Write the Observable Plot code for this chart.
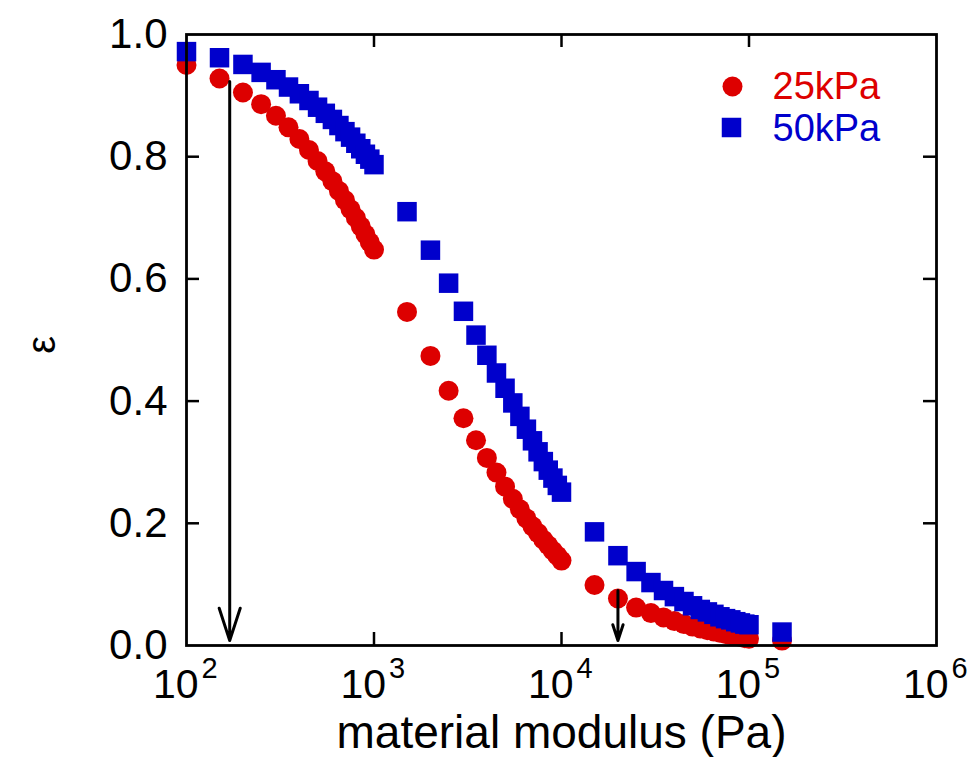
<!DOCTYPE html>
<html>
<head>
<meta charset="utf-8">
<script src="https://cdn.jsdelivr.net/npm/d3@7"></script>
<script src="https://cdn.jsdelivr.net/npm/@observablehq/plot@0.6"></script>
<style>
  html, body { margin: 0; padding: 0; background: #fff; }
  #chart svg { font-family: "Liberation Sans", Arial, Helvetica, sans-serif; }
</style>
</head>
<body>
<div id="chart"></div>
<script>
// ---- data ----
const modulus = [100,150,200,250,300,350,400,450,500,550,600,650,700,750,800,850,900,950,1000,
  1500,2000,2500,3000,3500,4000,4500,5000,5500,6000,6500,7000,7500,8000,8500,9000,9500,10000,
  15000,20000,25000,30000,35000,40000,45000,50000,55000,60000,65000,70000,75000,80000,85000,90000,95000,100000,
  150000];
const eps25 = [0.950,0.928,0.905,0.886,0.867,0.848,0.829,0.811,0.793,0.776,0.760,0.744,0.729,0.714,0.700,0.686,0.673,0.660,0.648,
  0.546,0.474,0.417,0.372,0.336,0.307,0.283,0.260,0.240,0.223,0.208,0.195,0.184,0.173,0.164,0.155,0.147,0.139,
  0.099,0.077,0.062,0.053,0.046,0.040,0.035,0.031,0.028,0.025,0.023,0.021,0.019,0.017,0.016,0.014,0.012,0.011,
  0.008];
const eps50 = [0.972,0.962,0.951,0.938,0.926,0.914,0.903,0.892,0.881,0.871,0.861,0.851,0.841,0.832,0.822,0.813,0.804,0.796,0.787,
  0.710,0.647,0.593,0.547,0.508,0.475,0.446,0.421,0.397,0.375,0.354,0.335,0.317,0.301,0.287,0.274,0.262,0.251,
  0.186,0.147,0.121,0.103,0.090,0.080,0.072,0.065,0.059,0.055,0.051,0.047,0.044,0.042,0.039,0.037,0.035,0.034,
  0.022];
const seriesNames = ["25kPa", "50kPa"];
const xTicks = [1e2, 1e3, 1e4, 1e5, 1e6];
const xTickBase = ["10", "10", "10", "10", "10"];
const xTickExp = ["2", "3", "4", "5", "6"];
const yTicks = [0, 0.2, 0.4, 0.6, 0.8, 1.0];
const yTickLabels = ["0.0", "0.2", "0.4", "0.6", "0.8", "1.0"];
const xLabel = "material modulus (Pa)";
const yLabel = "ε";
const arrowX = [170, 20000];
const arrowTop = [0.923, 0.09];
const arrowBottom = [0.008, 0.008];

// ---- derived tables ----
const red = "#dd0000", blue = "#0000cc";
const d25 = modulus.map((m, i) => ({m, e: eps25[i]}));
const d50 = modulus.map((m, i) => ({m, e: eps50[i]}));
const xTickData = xTicks.map((v, i) => ({v, base: xTickBase[i], exp: xTickExp[i]}));
const yTickData = yTicks.map((v, i) => ({v, label: yTickLabels[i]}));
const arrows = arrowX.map((x, i) => ({x, y1: arrowTop[i], y2: arrowBottom[i]}));

const W = 972, H = 757, mL = 186, mR = 36, mT = 34, mB = 112;
const fh = H - mT - mB, fw = W - mL - mR, tickLen = 13;

const chart = Plot.plot({
  width: W, height: H,
  marginLeft: mL, marginRight: mR, marginTop: mT, marginBottom: mB,
  x: {type: "log", domain: [1e2, 1e6], axis: null},
  y: {domain: [0, 1], axis: null},
  marks: [
    // inward ticks
    Plot.tickX(xTicks.slice(1, -1), {x: d => d, insetTop: fh - tickLen, stroke: "black", strokeWidth: 2.5}),
    Plot.tickX(xTicks.slice(1, -1), {x: d => d, insetBottom: fh - tickLen, stroke: "black", strokeWidth: 2.5}),
    Plot.tickY(yTicks.slice(1, -1), {y: d => d, insetRight: fw - tickLen, stroke: "black", strokeWidth: 2.5}),
    Plot.tickY(yTicks.slice(1, -1), {y: d => d, insetLeft: fw - tickLen, stroke: "black", strokeWidth: 2.5}),
    // tick labels
    Plot.text(yTickData, {y: "v", text: "label", frameAnchor: "left", dx: -19, textAnchor: "end", lineAnchor: "middle", fontSize: 42, fill: "black"}),
    Plot.text(xTickData, {x: "v", text: "base", frameAnchor: "bottom", dy: 52, dx: 12, lineAnchor: "bottom", textAnchor: "end", fontSize: 41, fill: "black"}),
    Plot.text(xTickData, {x: "v", text: "exp", frameAnchor: "bottom", dy: 32, dx: 15, lineAnchor: "bottom", textAnchor: "start", fontSize: 29, fill: "black"}),
    // axis labels
    Plot.text([xLabel], {text: d => d, frameAnchor: "bottom", dy: 102, lineAnchor: "bottom", textAnchor: "middle", fontSize: 46, fill: "black"}),
    Plot.text([yLabel], {text: d => d, frameAnchor: "left", dx: -146, dy: 6, textAnchor: "middle", lineAnchor: "middle", fontSize: 40, fill: "black"}),
    // data
    Plot.dot(d25, {x: "m", y: "e", r: 10, fill: red, stroke: "none"}),
    Plot.dot(d50, {x: "m", y: "e", r: 11, symbol: "square", fill: blue, stroke: "none"}),
    // arrows
    Plot.arrow(arrows, {x1: "x", x2: "x", y1: "y1", y2: "y2", stroke: "black", strokeWidth: 3, headLength: 17, headAngle: 36}),
    // frame
    Plot.frame({stroke: "black", strokeWidth: 2.8}),
    // legend
    Plot.dot([seriesNames[0]], {frameAnchor: "top-right", dx: -204, dy: 52, r: 10, fill: red, stroke: "none"}),
    Plot.dot([seriesNames[1]], {frameAnchor: "top-right", dx: -205, dy: 93, r: 11, symbol: "square", fill: blue, stroke: "none"}),
    Plot.text([seriesNames[0]], {text: d => d, frameAnchor: "top-right", dx: -164, dy: 52, textAnchor: "start", lineAnchor: "middle", fontSize: 38, fill: red}),
    Plot.text([seriesNames[1]], {text: d => d, frameAnchor: "top-right", dx: -164, dy: 94, textAnchor: "start", lineAnchor: "middle", fontSize: 38, fill: blue})
  ]
});
document.getElementById("chart").appendChild(chart);

// rotate the y-axis label (ε) a quarter turn counter-clockwise about its own centre
const yl = Array.from(chart.querySelectorAll("text")).find(t => t.textContent === yLabel);
if (yl) {
  const bb = yl.getBBox();
  const prev = yl.getAttribute("transform") || "";
  const cx = bb.x + bb.width / 2, cy = bb.y + bb.height / 2;
  yl.setAttribute("transform", (prev ? prev + " " : "") + `rotate(-90, ${cx}, ${cy})`);
}
</script>
</body>
</html>
